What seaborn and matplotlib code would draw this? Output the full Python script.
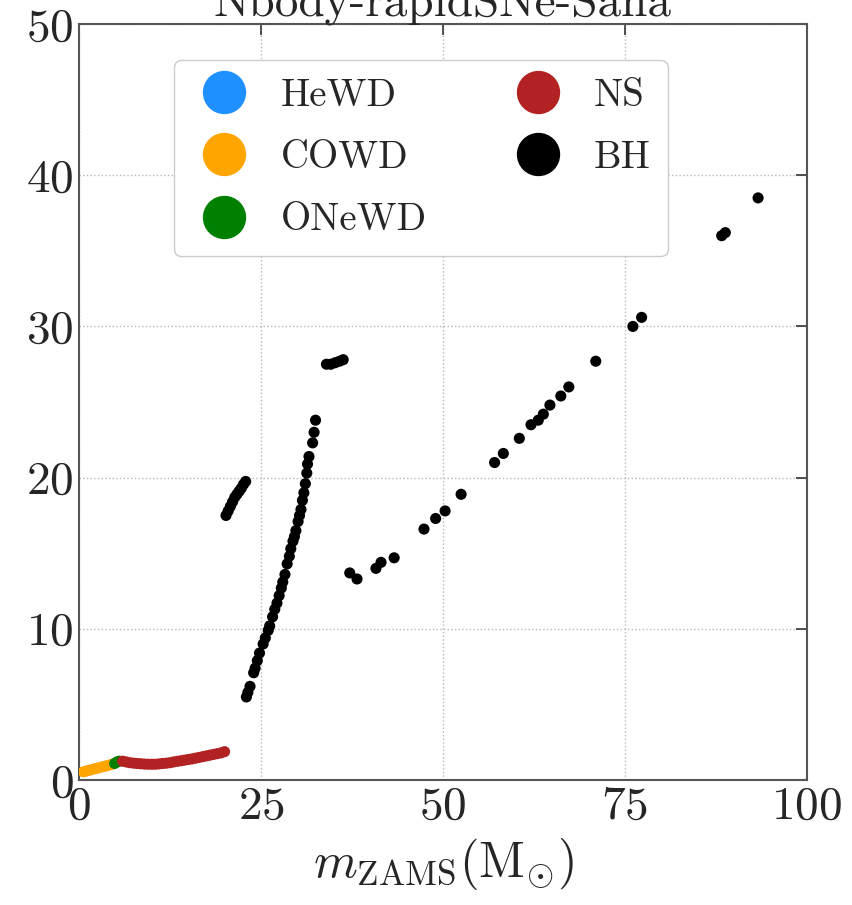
import numpy as np
import pandas as pd
import matplotlib
matplotlib.use("Agg")
import matplotlib.pyplot as plt
import seaborn as sns

# Remnant types and colours
types = ["HeWD", "COWD", "ONeWD", "NS", "BH"]
colors = ["#1E90FF", "#FFA500", "#008000", "#B22222", "#000000"]

# Carbon-oxygen white dwarfs
cowd_m = [0.6, 1.0, 1.4, 1.8, 2.2, 2.6, 3.0, 3.4, 3.8, 4.2, 4.6]
cowd_r = [0.55, 0.6, 0.65, 0.7, 0.75, 0.8, 0.85, 0.9, 0.95, 1.0, 1.05]

# Oxygen-neon white dwarfs
onewd_m = [4.9, 5.2, 5.5]
onewd_r = [1.1, 1.2, 1.25]

# Neutron stars
ns_m = [6.0, 6.5, 7.0, 7.5, 8.0, 8.5, 9.0, 9.5, 10.0, 10.5, 11.0, 11.5, 12.0,
        12.5, 13.0, 13.5, 14.0, 14.5, 15.0, 15.5, 16.0, 16.5, 17.0, 17.5,
        18.0, 18.5, 19.0, 19.5, 20.0]
ns_r = [1.25, 1.2, 1.15, 1.12, 1.1, 1.08, 1.06, 1.05, 1.05, 1.05, 1.07, 1.1,
        1.12, 1.15, 1.2, 1.24, 1.28, 1.32, 1.36, 1.4, 1.45, 1.5, 1.55, 1.6,
        1.65, 1.7, 1.75, 1.8, 1.88]

# Black holes
bh_m = [20.2, 20.5, 20.8, 21.1, 21.4, 21.7, 22.0, 22.3, 22.6, 22.9,
        23.0, 23.2, 23.5, 24.0, 24.2, 24.5, 24.8, 25.3, 25.6, 26.0, 26.2,
        26.6, 26.9, 27.2, 27.5, 27.8, 28.0, 28.3, 28.6, 28.9, 29.1, 29.4,
        29.6, 29.8, 30.1, 30.3, 30.5, 30.7, 30.9, 31.1, 31.3, 31.4, 31.6,
        32.1, 32.3, 32.5,
        34.0, 34.6, 35.2, 35.8, 36.3,
        37.2, 38.2, 40.8, 41.5, 43.3, 47.4, 49.0, 50.3, 52.5, 57.1, 58.3,
        60.5, 62.1, 63.1, 63.8, 64.7, 66.2, 67.3, 71.0, 76.1, 77.3, 88.3,
        88.8, 93.3]
bh_r = [17.5, 17.8, 18.1, 18.4, 18.7, 18.9, 19.1, 19.3, 19.55, 19.75,
        5.5, 5.8, 6.2, 7.1, 7.4, 7.9, 8.4, 9.0, 9.4, 9.9, 10.2,
        10.8, 11.3, 11.7, 12.2, 12.7, 13.1, 13.6, 14.3, 14.8, 15.3, 15.8,
        16.1, 16.5, 17.1, 17.5, 17.9, 18.5, 19.0, 19.6, 20.3, 20.9, 21.4,
        22.3, 23.0, 23.8,
        27.5, 27.5, 27.6, 27.7, 27.8,
        13.7, 13.3, 14.0, 14.4, 14.7, 16.6, 17.3, 17.8, 18.9, 21.0, 21.6,
        22.6, 23.5, 23.8, 24.2, 24.8, 25.4, 26.0, 27.7, 30.0, 30.6, 36.0,
        36.2, 38.5]

df = pd.concat([
    pd.DataFrame({"m": cowd_m, "r": cowd_r, "type": "COWD"}),
    pd.DataFrame({"m": onewd_m, "r": onewd_r, "type": "ONeWD"}),
    pd.DataFrame({"m": ns_m, "r": ns_r, "type": "NS"}),
    pd.DataFrame({"m": bh_m, "r": bh_r, "type": "BH"}),
], ignore_index=True)

sns.set_theme(style="white")
plt.rcParams["font.family"] = ["cmr10", "DejaVu Serif"]
plt.rcParams["mathtext.fontset"] = "cm"
plt.rcParams["axes.formatter.use_mathtext"] = True
plt.rcParams["axes.unicode_minus"] = False

fig = plt.figure(figsize=(8.52, 9.05), dpi=100)
ax = fig.add_axes([0.0927, 0.138, 0.8543, 0.8355])

sns.scatterplot(data=df, x="m", y="r", hue="type", hue_order=types,
                palette=dict(zip(types, colors)), s=64, linewidth=0,
                ax=ax, legend=True, zorder=3)

ax.set_xlim(0, 100)
ax.set_ylim(0, 50)
ax.set_xticks([0, 25, 50, 75, 100])
ax.set_yticks([0, 10, 20, 30, 40, 50])
ax.grid(True, linestyle=":", color="#b8b8b8", linewidth=1.0)
ax.tick_params(direction="in", top=True, right=True, length=8, width=1.2,
               labelsize=34, color="#333333", pad=4)
for sp in ax.spines.values():
    sp.set_linewidth(1.5)
    sp.set_color("#555555")

ax.set_xlabel(r"$m_{\rm ZAMS}({\rm M}_{\odot})$", fontsize=36, labelpad=6)
ax.set_ylabel("")
ax.set_title("Nbody-rapidSNe-Sana", fontsize=34, pad=6)

handles, labels = ax.get_legend_handles_labels()
leg = ax.legend(handles, labels, ncol=2, loc="upper left",
                bbox_to_anchor=(0.130, 0.952), borderaxespad=0,
                fontsize=28, markerscale=3.9,
                frameon=True, fancybox=True, framealpha=1.0,
                edgecolor="#cccccc", columnspacing=2.0, handletextpad=0.6,
                handlelength=1.7, labelspacing=0.68, borderpad=0.45)
leg.get_frame().set_linewidth(1.0)

fig.savefig("out.png", dpi=100)
